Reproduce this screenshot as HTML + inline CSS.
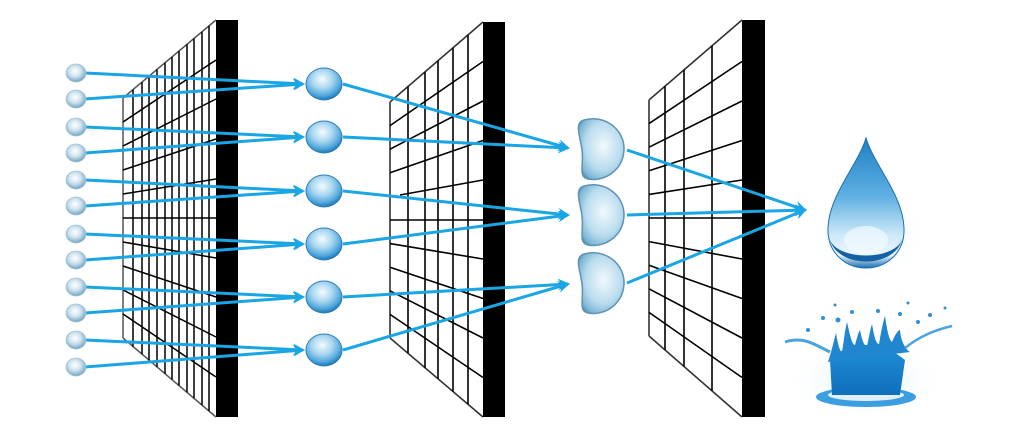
<!DOCTYPE html>
<html><head><meta charset="utf-8"><style>html,body{margin:0;padding:0;background:#fff}svg{display:block}</style></head>
<body>
<svg width="1015" height="429" viewBox="0 0 1015 429" xmlns="http://www.w3.org/2000/svg">
<defs>
<radialGradient id="sb" cx="45%" cy="40%" r="60%">
<stop offset="0" stop-color="#ffffff"/><stop offset="0.5" stop-color="#cfe3ef"/><stop offset="0.85" stop-color="#8fb8cf"/><stop offset="1" stop-color="#6e9fbb"/></radialGradient>
<radialGradient id="mb" cx="45%" cy="35%" r="65%">
<stop offset="0" stop-color="#f4fbff"/><stop offset="0.45" stop-color="#a9d6f0"/><stop offset="0.8" stop-color="#4ea7dc"/><stop offset="1" stop-color="#1f74b3"/></radialGradient>
<radialGradient id="db" cx="55%" cy="45%" r="65%">
<stop offset="0" stop-color="#f2f9fd"/><stop offset="0.6" stop-color="#b9dcee"/><stop offset="0.9" stop-color="#7db6d6"/><stop offset="1" stop-color="#4f8fb5"/></radialGradient>
<linearGradient id="drop" x1="0" y1="0" x2="0" y2="1">
<stop offset="0" stop-color="#1f7fc4"/><stop offset="0.45" stop-color="#5fb0e2"/><stop offset="0.75" stop-color="#cfe9f8"/><stop offset="0.9" stop-color="#eaf6fd"/><stop offset="1" stop-color="#1a6fb0"/></linearGradient>
<radialGradient id="glow" cx="50%" cy="50%" r="50%"><stop offset="0" stop-color="#d6ecfa"/><stop offset="1" stop-color="#ffffff" stop-opacity="0"/></radialGradient>
<linearGradient id="crown" x1="0" y1="0" x2="0" y2="1"><stop offset="0" stop-color="#1f8fd6"/><stop offset="1" stop-color="#0f6fbd"/></linearGradient>
<marker id="ah" markerWidth="12" markerHeight="12" refX="10" refY="6" orient="auto" markerUnits="userSpaceOnUse">
<path d="M0,0 L12,6 L0,12 L4,6 z" fill="#1aa5e4"/></marker>
</defs>

<g stroke="#000" stroke-width="1.5" fill="none">
<path d="M123,98 L216,20 M123,338 L216,417 M123,98 L123,338" stroke="#555"/>
<line x1="133" y1="89.6" x2="133" y2="346.5"/><line x1="142" y1="82.1" x2="142" y2="354.1"/>
<line x1="149" y1="76.2" x2="149" y2="360.1"/><line x1="157" y1="69.5" x2="157" y2="366.9"/>
<line x1="165" y1="62.8" x2="165" y2="373.7"/><line x1="172" y1="56.9" x2="172" y2="379.6"/>
<line x1="179" y1="51" x2="179" y2="385.6"/><line x1="187" y1="44.3" x2="187" y2="392.4"/>
<line x1="194" y1="38.5" x2="194" y2="398.3"/><line x1="202" y1="31.7" x2="202" y2="405.1"/>
<line x1="209" y1="25.9" x2="209" y2="411.1"/>
<line x1="123" y1="122" x2="216" y2="60"/><line x1="123" y1="146" x2="216" y2="99"/>
<line x1="123" y1="170" x2="216" y2="139"/><line x1="123" y1="194" x2="216" y2="179"/>
<line x1="123" y1="218" x2="216" y2="218"/><line x1="123" y1="242" x2="216" y2="258"/>
<line x1="123" y1="266" x2="216" y2="297"/><line x1="123" y1="290" x2="216" y2="337"/>
<line x1="123" y1="314" x2="216" y2="377"/>
</g>
<rect x="216" y="20" width="22" height="397" fill="#000"/>

<g stroke="#000" stroke-width="1.6" fill="none">
<path d="M390,102 L483,22 M390,338 L483,417 M390,102 L390,338" stroke="#333"/>
<line x1="408" y1="86.5" x2="408" y2="353.3"/><line x1="425" y1="71.9" x2="425" y2="367.7"/>
<line x1="438" y1="60.7" x2="438" y2="378.8"/><line x1="453" y1="47.8" x2="453" y2="391.5"/>
<line x1="468" y1="34.9" x2="468" y2="404.3"/>
<line x1="390" y1="125.6" x2="483" y2="61.5"/><line x1="390" y1="149.2" x2="483" y2="101"/>
<line x1="390" y1="172.8" x2="483" y2="140.5"/><line x1="400" y1="195" x2="483" y2="180"/>
<line x1="390" y1="220" x2="483" y2="220"/><line x1="390" y1="243.6" x2="483" y2="259"/>
<line x1="390" y1="267.2" x2="483" y2="298.5"/><line x1="390" y1="290.8" x2="483" y2="338"/>
<line x1="390" y1="314.4" x2="483" y2="377.5"/>
</g>
<rect x="483" y="22" width="22" height="395" fill="#000"/>

<g stroke="#000" stroke-width="1.6" fill="none">
<path d="M649,100 L742,20 M649,336 L742,417 M649,100 L649,336" stroke="#333"/>
<line x1="665" y1="86.2" x2="665" y2="349.9"/><line x1="684" y1="69.9" x2="684" y2="366.5"/>
<line x1="712" y1="45.8" x2="712" y2="390.9"/>
<line x1="649" y1="123.6" x2="742" y2="61.5"/><line x1="649" y1="147.2" x2="742" y2="101"/>
<line x1="649" y1="170.8" x2="742" y2="140.5"/><line x1="649" y1="194.4" x2="742" y2="180"/>
<line x1="649" y1="218" x2="742" y2="218"/><line x1="649" y1="241.6" x2="742" y2="259"/>
<line x1="649" y1="265.2" x2="742" y2="298.5"/><line x1="649" y1="288.8" x2="742" y2="338"/>
<line x1="649" y1="312.4" x2="742" y2="377.5"/>
</g>
<rect x="742" y="20" width="23" height="397" fill="#000"/>

<g stroke="#1aa5e4" stroke-width="3" fill="none" marker-end="url(#ah)">
<line x1="85" y1="73" x2="303" y2="84"/><line x1="85" y1="99" x2="303" y2="84"/>
<line x1="85" y1="127" x2="303" y2="137"/><line x1="85" y1="153" x2="303" y2="137"/>
<line x1="85" y1="180" x2="303" y2="191"/><line x1="85" y1="206" x2="303" y2="191"/>
<line x1="85" y1="234" x2="303" y2="244"/><line x1="85" y1="260" x2="303" y2="244"/>
<line x1="85" y1="287" x2="303" y2="297"/><line x1="85" y1="313" x2="303" y2="297"/>
<line x1="85" y1="340" x2="303" y2="350"/><line x1="85" y1="367" x2="303" y2="350"/>
<line x1="343" y1="84" x2="568" y2="148"/><line x1="343" y1="137" x2="568" y2="148"/>
<line x1="343" y1="191" x2="568" y2="215"/><line x1="343" y1="244" x2="568" y2="215"/>
<line x1="343" y1="297" x2="568" y2="284"/><line x1="343" y1="350" x2="568" y2="284"/>
<line x1="627" y1="150" x2="805" y2="210"/><line x1="627" y1="215" x2="805" y2="210"/>
<line x1="627" y1="283" x2="805" y2="210"/>
</g>

<g fill="url(#sb)" stroke="#a9c6d6" stroke-width="0.8">
<ellipse cx="76" cy="73" rx="10" ry="9"/><ellipse cx="76" cy="99" rx="10" ry="9"/>
<ellipse cx="76" cy="127" rx="10" ry="9"/><ellipse cx="76" cy="153" rx="10" ry="9"/>
<ellipse cx="76" cy="180" rx="10" ry="9"/><ellipse cx="76" cy="206" rx="10" ry="9"/>
<ellipse cx="76" cy="234" rx="10" ry="9"/><ellipse cx="76" cy="260" rx="10" ry="9"/>
<ellipse cx="76" cy="287" rx="10" ry="9"/><ellipse cx="76" cy="313" rx="10" ry="9"/>
<ellipse cx="76" cy="340" rx="10" ry="9"/><ellipse cx="76" cy="367" rx="10" ry="9"/>
</g>
<g fill="url(#mb)" stroke="#2e7fb8" stroke-width="1">
<ellipse cx="324" cy="84" rx="18" ry="16"/><ellipse cx="324" cy="137" rx="18" ry="16"/>
<ellipse cx="324" cy="191" rx="18" ry="16"/><ellipse cx="324" cy="244" rx="18" ry="16"/>
<ellipse cx="324" cy="297" rx="18" ry="16"/><ellipse cx="324" cy="350" rx="18" ry="16"/>
</g>
<g fill="url(#db)" stroke="#5f93b3" stroke-width="1.5">
<path d="M584,120 C605,114 625,130 624,150 C623,170 605,182 588,179 C578,177 584,165 582,150 C580,135 574,123 584,120 Z"/>
<path d="M584,186 C605,180 625,196 624,216 C623,236 605,248 588,245 C578,243 584,231 582,216 C580,201 574,189 584,186 Z"/>
<path d="M584,254 C605,248 625,264 624,284 C623,304 605,316 588,313 C578,311 584,299 582,284 C580,269 574,257 584,254 Z"/>
</g>

<ellipse cx="866" cy="235" rx="60" ry="48" fill="url(#glow)"/>
<path d="M866,138 C858,165 829,195 828,228 C827,252 845,268 866,268 C887,268 905,252 904,228 C903,195 874,165 866,138 Z" fill="url(#drop)" stroke="#1a6fb0" stroke-width="1"/>
<ellipse cx="866" cy="240" rx="22" ry="14" fill="#f2faff" opacity="0.7"/>
<path d="M829,236 C832,262 900,262 903,236 C898,270 834,270 829,236 Z" fill="#1560a3"/>

<ellipse cx="866" cy="380" rx="80" ry="40" fill="url(#glow)"/>
<ellipse cx="866" cy="397" rx="50" ry="10" fill="#3a9ee0"/>
<ellipse cx="866" cy="395" rx="38" ry="6" fill="#dff0fb"/>
<path d="M832,395 L830,360 C840,350 850,345 866,345 C882,345 892,350 905,360 L900,395 Z" fill="url(#crown)"/>
<path d="M828,362 C832,350 834,340 836,333 C838,345 840,352 842,352 C844,340 845,330 847,322 C850,335 852,345 855,345 C857,338 858,333 860,330 C862,340 864,346 867,346 C869,338 870,330 872,324 C874,336 876,344 879,344 C881,332 883,322 885,316 C887,330 889,340 892,342 C895,335 898,330 900,330 C901,342 906,350 910,352 Z" fill="#1f86cf"/>
<g fill="#2e90d6">
<circle cx="838" cy="320" r="2.5"/><circle cx="852" cy="312" r="2"/><circle cx="878" cy="311" r="2"/>
<circle cx="900" cy="314" r="2"/><circle cx="918" cy="322" r="2"/><circle cx="930" cy="315" r="2"/>
<circle cx="808" cy="330" r="2"/><circle cx="823" cy="318" r="2"/><circle cx="945" cy="308" r="1.5"/>
<circle cx="835" cy="305" r="1.5"/><circle cx="908" cy="303" r="1.5"/>
</g>
<path d="M785,342 C805,336 815,345 830,352" stroke="#4aa4dd" stroke-width="3" fill="none"/>
<path d="M905,348 C920,336 935,330 952,326" stroke="#4aa4dd" stroke-width="2.5" fill="none"/>
</svg>
</body></html>
